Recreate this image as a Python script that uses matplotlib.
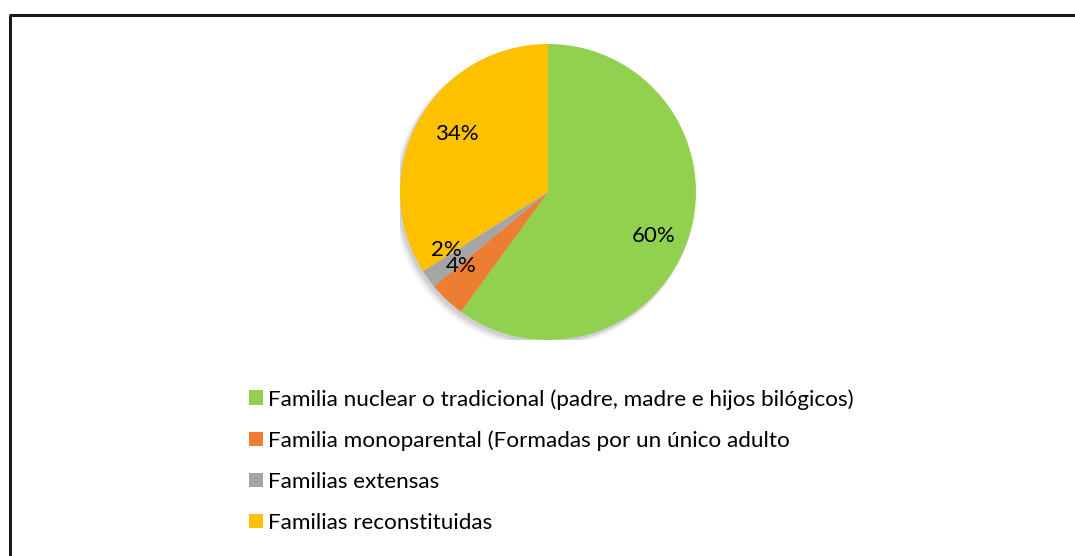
import matplotlib
matplotlib.use("Agg")
import matplotlib.pyplot as plt
from matplotlib.patches import Patch, Circle
import numpy as np

categories = [
    "Familia nuclear o tradicional (padre, madre e hijos bilógicos)",
    "Familia monoparental (Formadas por un único adulto",
    "Familias extensas",
    "Familias reconstituidas",
]
values = [60, 4, 2, 34]
colors = ["#92D050", "#ED7D31", "#A5A5A5", "#FFC000"]

plt.rcParams['font.family'] = ['Lato', 'DejaVu Sans']

W, H = 1075, 556
fig = plt.figure(figsize=(W / 100, H / 100), dpi=100)
fig.patch.set_facecolor("white")

# frame (left and top border only visible)
fig.add_artist(plt.Line2D([10 / W, 10 / W], [0, 1 - 15 / H], color="#1a1a1a", lw=2.2,
                          solid_capstyle="butt"))
fig.add_artist(plt.Line2D([9 / W, 1], [1 - 15 / H, 1 - 15 / H], color="#1a1a1a", lw=2.2,
                          solid_capstyle="butt"))

cx, cy, r = 548, 192, 148
ax = fig.add_axes([(cx - r) / W, 1 - (cy + r) / H, 2 * r / W, 2 * r / H])
ax.set_xlim(-1, 1)
ax.set_ylim(-1, 1)
ax.set_aspect("equal")
ax.axis("off")

# soft shadow
for i, a in enumerate(np.linspace(0.05, 0.012, 6)):
    ax.add_patch(Circle((-0.015 - 0.004 * i, -0.02 - 0.004 * i), 1.0 + 0.004 * i,
                        color="black", alpha=a, lw=0, zorder=0))

wedges, texts, autotexts = ax.pie(
    values, colors=colors, startangle=90, counterclock=False, radius=1,
    autopct="%d%%", pctdistance=0.77,
    wedgeprops=dict(linewidth=0), textprops=dict(fontsize=16, color="black"),
)
for w in wedges:
    w.set_zorder(2)
for t in autotexts:
    t.set_zorder(3)
# adjust label placement per slice
for t, ang, d in zip(autotexts, [-22.7, -139.6, -150.5, 147.5], [0.77, 0.77, 0.79, 0.73]):
    t.set_position((d * np.cos(np.radians(ang)), d * np.sin(np.radians(ang))))
ax.set_xlim(-1, 1)
ax.set_ylim(-1, 1)

handles = [Patch(facecolor=c, edgecolor="none") for c in colors]
leg = fig.legend(handles, categories, loc="upper left",
                 bbox_to_anchor=(240 / W, 1 - 380 / H), frameon=False,
                 fontsize=16.2, handlelength=0.62, handleheight=0.62,
                 handletextpad=0.22, labelspacing=0.93, borderaxespad=0)

fig.savefig("out.png", dpi=100)
